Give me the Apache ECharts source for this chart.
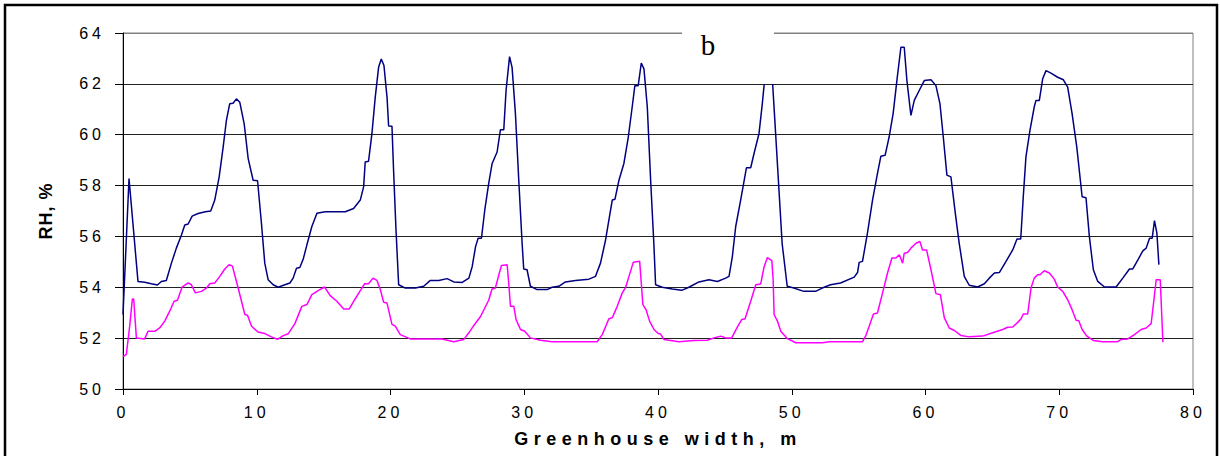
<!DOCTYPE html>
<html>
<head>
<meta charset="utf-8">
<script src="https://cdn.jsdelivr.net/npm/echarts@6/dist/echarts.min.js"></script>
<style>
html,body{margin:0;padding:0;background:#fff;}
#chart{width:1220px;height:456px;}
</style>
</head>
<body>
<div id="chart"></div>
<script>
// Greenhouse width (m) and relative humidity (%) — upper (navy) curve
const xUpper = [0,0.45,1.12,1.62,2.12,2.57,2.87,3.24,3.62,3.99,4.37,4.62,4.87,5.17,5.61,6.16,6.56,6.86,7.19,7.49,7.73,7.98,8.23,8.48,8.73,9.06,9.36,9.73,10.06,10.35,10.6,10.85,11.23,11.6,12.1,12.48,12.72,12.97,13.22,13.47,13.75,14.12,14.5,15.12,16.62,17.24,17.74,17.99,18.11,18.36,18.61,18.86,19.11,19.31,19.51,19.74,19.86,20.11,20.23,20.41,20.61,21.11,21.86,22.48,22.98,23.61,24.23,24.73,25.36,25.86,26.11,26.36,26.55,26.8,27.05,27.34,27.6,27.97,28.22,28.47,28.64,28.9,29.09,29.34,29.59,29.84,29.96,30.21,30.46,30.96,31.71,32.08,32.58,33.08,33.83,34.83,35.33,35.7,36.08,36.33,36.58,36.78,37.08,37.45,37.78,38.07,38.27,38.52,38.75,38.95,39.2,39.45,39.7,39.82,40.32,41.07,41.77,42.31,43.06,43.81,44.44,45.06,45.31,45.56,45.81,46.18,46.61,46.93,47.18,47.55,47.8,47.93,48.1,48.28,48.45,48.58,48.78,49.03,49.28,49.66,50.16,50.9,51.78,52.28,52.9,53.65,54.67,54.92,55.04,55.29,55.66,56.04,56.41,56.66,56.98,57.28,57.58,57.86,58.16,58.41,58.61,58.91,59.16,59.53,59.91,60.41,60.78,61.08,61.33,61.6,61.9,62.23,62.52,62.9,63.27,63.9,64.4,64.77,65.15,65.52,66.02,66.52,66.84,67.12,67.31,67.51,67.81,68.13,68.26,68.51,68.76,69.01,69.38,69.88,70.31,70.63,70.96,71.31,71.71,72.0,72.25,72.55,72.88,73.38,74.25,74.75,75.25,75.5,75.88,76.25,76.5,76.75,76.95,77.12,77.3,77.45];
const rhUpper = [52.93,58.28,54.23,54.2,54.14,54.09,54.23,54.27,54.95,55.54,56.06,56.45,56.49,56.8,56.9,56.97,57.0,57.43,58.34,59.52,60.56,61.22,61.24,61.41,61.28,60.43,59.06,58.21,58.19,56.52,54.95,54.3,54.1,54.0,54.1,54.17,54.36,54.75,54.78,55.1,55.67,56.39,56.91,56.97,56.97,57.1,57.43,57.95,58.93,58.96,60.04,61.48,62.65,62.98,62.72,61.48,60.34,60.33,58.6,56.26,54.1,53.97,53.97,54.04,54.27,54.27,54.34,54.21,54.19,54.36,54.82,55.6,55.93,55.93,57.04,58.08,58.87,59.32,60.2,60.2,61.74,63.07,62.65,60.83,58.21,55.73,54.72,54.69,54.04,53.91,53.91,54.0,54.04,54.21,54.27,54.32,54.43,54.95,55.86,56.65,57.43,57.46,58.21,58.87,59.91,61.09,61.93,61.93,62.82,62.59,61.09,58.21,55.6,54.1,54.0,53.93,53.88,54.0,54.21,54.3,54.23,54.36,54.43,55.21,56.39,57.43,58.7,58.7,59.26,60.04,61.22,61.93,62.6,62.95,62.7,61.93,60.17,57.95,55.73,54.04,53.97,53.84,53.84,53.97,54.1,54.17,54.4,54.58,54.98,55.02,56.13,57.43,58.48,59.15,59.19,59.91,60.83,62.13,63.44,63.44,62.13,60.76,61.35,61.74,62.13,62.16,61.93,61.22,59.91,58.41,58.34,56.91,55.73,54.43,54.08,54.01,54.14,54.36,54.56,54.58,55.02,55.47,55.9,55.9,57.56,59.13,60.17,61.09,61.35,61.35,62.2,62.52,62.42,62.26,62.16,61.87,60.83,59.52,57.56,57.52,56.0,54.69,54.23,54.01,54.01,54.36,54.72,54.72,55.08,55.43,55.54,55.93,55.93,56.62,56.13,54.89];

// lower (magenta) curve
const xLower = [0,0.25,0.5,0.7,0.8,1.0,1.62,1.87,2.37,2.74,3.12,3.49,3.82,4.07,4.42,4.87,5.11,5.41,5.86,6.24,6.49,6.86,7.24,7.61,7.93,8.18,8.61,9.11,9.31,9.61,10.1,10.6,11.1,11.55,11.98,12.35,12.85,13.37,13.75,14.12,14.62,15.07,15.49,15.99,16.5,16.92,17.32,17.74,18.07,18.36,18.69,18.99,19.24,19.49,19.74,20.11,20.36,20.73,21.48,22.85,23.85,24.73,25.48,25.86,26.23,26.73,27.34,27.59,27.84,28.1,28.3,28.72,28.84,28.97,29.22,29.39,29.72,30.04,30.46,31.21,32.08,35.45,35.83,36.33,36.58,36.95,37.33,37.58,37.83,38.15,38.63,38.75,38.87,39.12,39.37,39.7,40.02,40.19,40.44,41.56,42.69,43.69,44.19,44.69,45.06,45.51,45.93,46.26,46.51,46.93,47.31,47.68,47.93,48.18,48.51,48.61,48.68,48.93,49.18,49.68,50.3,52.3,52.8,55.29,55.54,55.79,56.11,56.41,56.79,57.16,57.49,57.79,58.04,58.29,58.41,58.66,58.91,59.29,59.58,59.78,60.08,60.41,60.78,61.11,61.41,61.78,62.16,62.66,63.28,64.27,65.02,65.77,66.14,66.52,66.9,67.14,67.31,67.64,67.89,68.13,68.38,68.56,68.88,69.26,69.63,69.88,70.26,70.63,70.96,71.26,71.46,71.71,72.06,72.55,73.25,74.37,74.63,75.12,75.62,76.12,76.5,76.87,77.05,77.25,77.55,77.75];
const rhLower = [51.27,51.36,52.47,53.54,53.54,52.01,51.97,52.27,52.27,52.4,52.67,53.06,53.45,53.49,54.01,54.17,54.1,53.78,53.84,53.97,54.14,54.17,54.43,54.72,54.89,54.83,53.97,52.93,52.9,52.47,52.24,52.18,52.05,51.95,52.1,52.17,52.57,53.25,53.32,53.71,53.88,54.01,53.67,53.45,53.15,53.15,53.51,53.87,54.14,54.14,54.36,54.27,53.91,53.41,53.38,52.54,52.47,52.14,51.97,51.97,51.97,51.86,51.95,52.21,52.5,52.85,53.49,53.93,53.97,54.49,54.86,54.89,54.17,53.25,53.25,52.73,52.34,52.27,52.01,51.92,51.86,51.86,52.14,52.76,52.8,53.25,53.78,54.0,54.43,54.98,55.02,54.17,53.32,53.1,52.67,52.34,52.18,52.16,51.95,51.86,51.91,51.92,52.01,52.08,52.01,52.01,52.43,52.73,52.76,53.45,54.1,54.13,54.8,55.17,55.05,54.3,52.93,52.67,52.27,51.98,51.82,51.82,51.86,51.86,52.1,52.47,52.95,52.99,53.78,54.56,55.15,55.15,55.28,54.95,55.34,55.37,55.54,55.73,55.8,55.47,55.47,54.69,53.75,53.71,52.8,52.4,52.3,52.1,52.05,52.08,52.21,52.34,52.43,52.44,52.62,52.76,52.95,52.95,53.97,54.36,54.49,54.49,54.65,54.56,54.32,54.01,53.84,53.51,53.12,52.7,52.68,52.34,52.08,51.91,51.86,51.86,51.95,51.97,52.14,52.34,52.4,52.57,53.38,54.3,54.3,51.84];

const xTitle = 'Greenhouse width, m';
const yTitle = 'RH, %';
const panelLabel = 'b';

const zip = (xs, ys) => xs.map((x, i) => [x, ys[i]]);

const chart = echarts.init(document.getElementById('chart'), null, {renderer: 'svg'});
const labelFont = {fontFamily: '"Liberation Sans", Arial, sans-serif', fontSize: 16, color: '#000'};

chart.setOption({
  animation: false,
  backgroundColor: '#fff',
  grid: {left: 123, right: 27, top: 33, bottom: 67, show: true, borderColor: '#808080', borderWidth: 1, backgroundColor: 'transparent'},
  xAxis: {
    type: 'value', min: 0, max: 80, interval: 10,
    name: xTitle, nameLocation: 'middle', nameGap: 41,
    nameTextStyle: {fontFamily: '"Liberation Sans", Arial, sans-serif', fontSize: 18, fontWeight: 'bold', color: '#000'},
    axisLine: {show: true, onZero: false, lineStyle: {color: '#000', width: 1}},
    axisTick: {show: true, inside: false, length: 6, lineStyle: {color: '#000'}},
    axisLabel: Object.assign({margin: 15}, labelFont),
    splitLine: {show: false}
  },
  yAxis: {
    type: 'value', min: 50, max: 64, interval: 2,
    name: yTitle, nameLocation: 'middle', nameGap: 68, nameRotate: 90,
    nameTextStyle: {fontFamily: '"Liberation Sans", Arial, sans-serif', fontSize: 18, fontWeight: 'bold', color: '#000'},
    axisLine: {show: true, onZero: false, lineStyle: {color: '#000', width: 1}},
    axisTick: {show: true, inside: false, length: 8, lineStyle: {color: '#000'}},
    axisLabel: Object.assign({margin: 18}, labelFont),
    splitLine: {show: true, lineStyle: {color: ['#000','#222','#222','#222','#222','#222','#222','#808080'], width: 1}}
  },
  series: [
    {type: 'line', data: zip(xUpper, rhUpper), showSymbol: false, symbol: 'none', lineStyle: {color: '#000080', width: 1.5}, itemStyle: {color: '#000080'}, z: 3},
    {type: 'line', data: zip(xLower, rhLower), showSymbol: false, symbol: 'none', lineStyle: {color: '#FF00FF', width: 1.5}, itemStyle: {color: '#FF00FF'}, z: 2}
  ],
  graphic: [
    {type: 'rect', shape: {x: 682, y: 18, width: 92, height: 66}, style: {fill: '#fff'}, z: 100},
    {type: 'text', x: 708, y: 45, style: {text: panelLabel, font: '29px "Liberation Serif", "Times New Roman", serif', fill: '#000', textAlign: 'center', textVerticalAlign: 'middle'}, z: 101},
    {type: 'rect', shape: {x: 5, y: 5, width: 1212, height: 480}, style: {fill: 'none', stroke: '#000', lineWidth: 2.5}, z: 102}
  ]
});

function applySpacing() {
  document.querySelectorAll('#chart svg text').forEach(t => {
    const s = t.textContent;
    if (/^\d+$/.test(s)) t.setAttribute('letter-spacing', '4');
    else if (s.indexOf('Greenhouse') === 0) t.setAttribute('letter-spacing', '5.5');
    else if (s.indexOf('RH') === 0) t.setAttribute('letter-spacing', '1');
  });
}
chart.on('finished', applySpacing);
applySpacing();
setTimeout(applySpacing, 50);
</script>
</body>
</html>
